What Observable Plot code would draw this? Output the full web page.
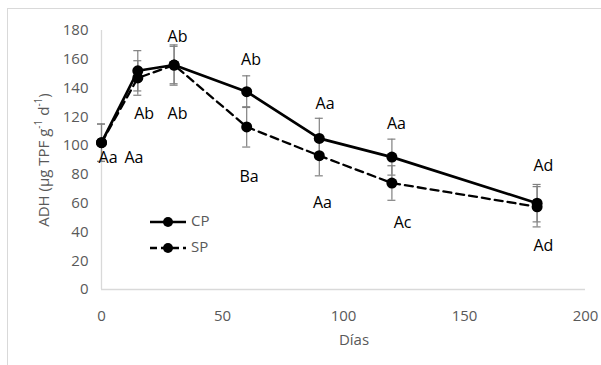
<!DOCTYPE html>
<html><head><meta charset="utf-8">
<script src="https://cdn.jsdelivr.net/npm/d3@7"></script>
<script src="https://cdn.jsdelivr.net/npm/@observablehq/plot@0.6"></script>
<style>
body{margin:0;background:#fff;font-family:"Open Sans",sans-serif;}
#wrap{position:relative;width:601px;height:365px;overflow:hidden;}
#box{position:absolute;left:7px;top:8px;width:700px;height:500px;border:1px solid #d9d9d9;}
#chart{position:absolute;left:0;top:0;}
</style></head>
<body><div id="wrap"><div id="box"></div><div id="chart"></div></div>
<script>
const days = [0, 15, 30, 60, 90, 120, 180];
const cpValues = [102, 152, 156, 137.5, 105, 92, 60];
const cpErrors = [13, 14, 14, 11, 14, 12.5, 13];
const spValues = [102, 147, 156, 113, 93, 74, 57.5];
const spErrors = [13, 12, 13, 14, 14, 12, 14];
const labelText = ["Aa","Aa","Ab","Ab","Ab","Ab","Ba","Aa","Aa","Aa","Ac","Ad","Ad"];
const labelDay  = [2.7, 13.4, 17.6, 31.4, 31.4, 61.8, 61, 92.4, 91.3, 121.9, 124.4, 182.6, 182.6];
const labelY    = [91.7, 91.7, 122, 122, 175.7, 159.7, 78.5, 129, 60.4, 115, 46, 85.6, 30];
const xTicks = [0, 50, 100, 150, 200];
const yTicks = [0, 20, 40, 60, 80, 100, 120, 140, 160, 180];

const cp = days.map((d,i)=>({day:d, v:cpValues[i], e:cpErrors[i]}));
const sp = days.map((d,i)=>({day:d, v:spValues[i], e:spErrors[i]}));
const labels = labelText.map((t,i)=>({t, day:labelDay[i], y:labelY[i]}));
const all = [...cp, ...sp];

const grey = "#808080";
const plot = Plot.plot({
  width: 601, height: 365,
  marginLeft: 101, marginRight: 16, marginTop: 30, marginBottom: 76,
  style: {fontFamily: "Open Sans, sans-serif", fontSize: "15px", color: "#595959", background: "transparent"},
  x: {domain: [0, 200], ticks: xTicks, label: null},
  y: {domain: [0, 180], ticks: yTicks, label: null},
  marks: [
    Plot.ruleY([0], {stroke: "#d9d9d9", strokeWidth: 1.3}),
    Plot.ruleX([0], {stroke: "#d9d9d9", strokeWidth: 1.3}),
    Plot.axisX({ticks: xTicks, tickSize: 0, tickPadding: 21, fill: "#595959"}),
    Plot.axisY({ticks: yTicks, tickSize: 0, tickPadding: 13, fill: "#595959"}),
    Plot.ruleX(all, {x: "day", y1: d=>d.v-d.e, y2: d=>d.v+d.e, stroke: grey, strokeWidth: 1.2}),
    Plot.ruleY(all, {y: d=>d.v+d.e, x1: "day", x2: "day", insetLeft: -4, insetRight: -4, stroke: grey, strokeWidth: 1.2}),
    Plot.ruleY(all, {y: d=>d.v-d.e, x1: "day", x2: "day", insetLeft: -4, insetRight: -4, stroke: grey, strokeWidth: 1.2}),
    Plot.line(sp, {x: "day", y: "v", stroke: "#000", strokeWidth: 2.3, strokeDasharray: "8,5"}),
    Plot.line(cp, {x: "day", y: "v", stroke: "#000", strokeWidth: 2.7}),
    Plot.dot(sp, {x: "day", y: "v", r: 5.5, fill: "#000"}),
    Plot.dot(cp, {x: "day", y: "v", r: 5.5, fill: "#000"}),
    Plot.text(labels, {x: "day", y: "y", text: "t", fill: "#000", fontSize: 16})
  ]
});
document.getElementById("chart").appendChild(plot);

const svg = d3.select(plot);
// y-axis title with superscripts
const yt = svg.append("text").attr("transform", "translate(45,160) rotate(-90)")
  .attr("text-anchor", "middle").attr("fill", "#595959").attr("font-size", 15)
  .attr("dominant-baseline", "middle");
yt.append("tspan").text("ADH (µg TPF g");
yt.append("tspan").text("-1").attr("font-size", 10).attr("dy", -6);
yt.append("tspan").text(" d").attr("dy", 6);
yt.append("tspan").text("-1").attr("font-size", 10).attr("dy", -6);
yt.append("tspan").text(")").attr("dy", 6);
// x-axis title
svg.append("text").attr("x", 354).attr("y", 341).attr("text-anchor", "middle")
  .attr("dominant-baseline", "middle").attr("fill", "#595959").attr("font-size", 15).text("Días");
// legend
const legend = [{name: "CP", dash: null, y: 222}, {name: "SP", dash: "7,4", y: 248}];
legend.forEach(l => {
  svg.append("line").attr("x1", 150).attr("x2", 186).attr("y1", l.y).attr("y2", l.y)
    .attr("stroke", "#000").attr("stroke-width", 2.4).attr("stroke-dasharray", l.dash);
  svg.append("circle").attr("cx", 168).attr("cy", l.y).attr("r", 5).attr("fill", "#000");
  svg.append("text").attr("x", 191).attr("y", l.y).attr("text-anchor", "start")
    .attr("dominant-baseline", "middle")
    .attr("fill", "#595959").attr("font-size", 15).text(l.name);
});
</script></body></html>
